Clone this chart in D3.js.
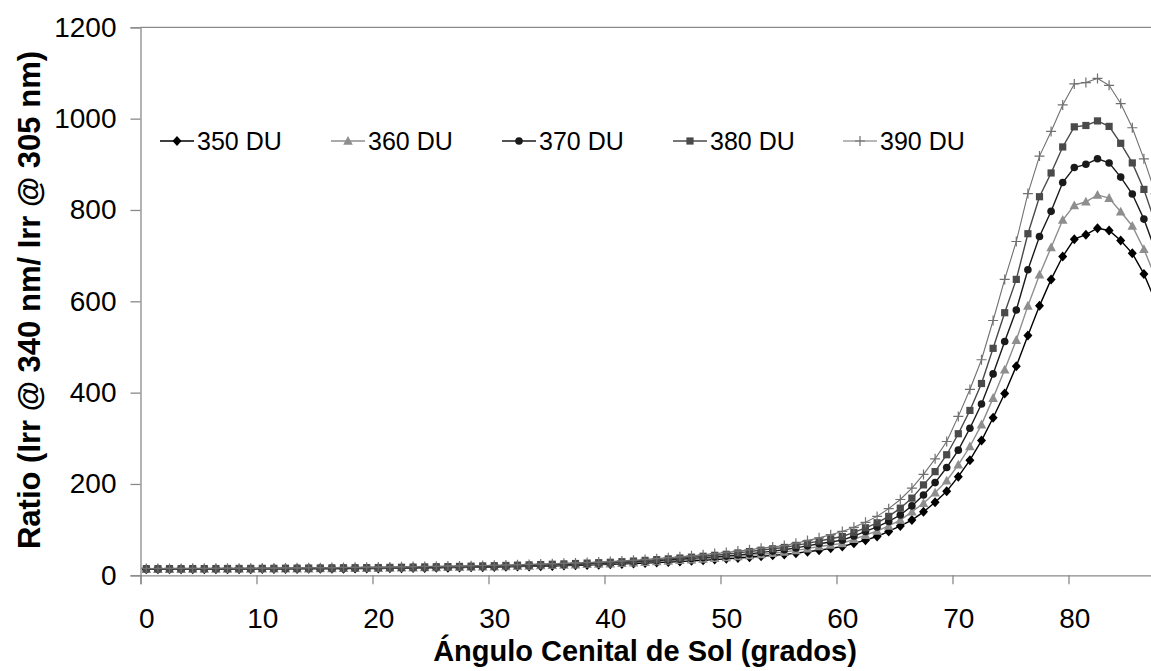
<!DOCTYPE html>
<html><head><meta charset="utf-8">
<script src="https://cdn.jsdelivr.net/npm/d3@7"></script>
<style>body{margin:0;background:#fff;}svg{display:block;font-family:"Liberation Sans",Arial,sans-serif;}</style>
</head><body>
<svg id="c" width="1151" height="671"></svg>
<script>
const angles = [0,1,2,3,4,5,6,7,8,9,10,11,12,13,14,15,16,17,18,19,20,21,22,23,24,25,26,27,28,29,30,31,32,33,34,35,36,37,38,39,40,41,42,43,44,45,46,47,48,49,50,51,52,53,54,55,56,57,58,59,60,61,62,63,64,65,66,67,68,69,70,71,72,73,74,75,76,77,78,79,80,81,82,83,84,85,86,87,88];
const du350 = [13.0,13.0,13.1,13.1,13.2,13.2,13.3,13.4,13.5,13.5,13.6,13.7,13.8,14.0,14.1,14.3,14.4,14.6,14.8,14.9,15.0,15.3,15.6,15.9,16.2,16.5,16.8,17.1,17.4,17.7,18.0,18.5,19.0,19.5,20.0,20.5,21.2,21.9,22.6,23.3,24.0,25.0,26.0,27.0,28.0,29.0,30.3,31.7,33.0,34.5,36.0,37.8,39.6,41.6,43.7,45.5,48.5,51.5,55,59,63,70,77,85,96,108,121,139,160,184,216,252,295,345,398,458,525,590,648,698,736,746,760,755,733,705,660,600,530];
const du360 = [13.5,13.5,13.6,13.6,13.7,13.7,13.8,13.9,14.0,14.1,14.2,14.3,14.4,14.6,14.7,14.9,15.1,15.3,15.5,15.6,15.8,16.1,16.4,16.7,17.0,17.3,17.6,18.0,18.3,18.6,19.0,19.5,20.1,20.7,21.3,22.0,22.7,23.4,24.1,24.8,25.5,26.6,27.7,28.9,30.1,31.4,32.8,34.3,35.8,37.4,39.0,41.2,43.5,45.9,48.4,51,54.5,58.5,63,66.5,70,79,88,97,108,121,139,158,181,207,242,282,330,388,450,515,590,658,718,778,810,818,833,826,796,765,714,652,580];
const du370 = [14.0,14.0,14.1,14.1,14.2,14.2,14.3,14.4,14.5,14.6,14.7,14.8,15.0,15.1,15.3,15.5,15.7,15.9,16.1,16.3,16.5,16.8,17.1,17.4,17.7,18.0,18.4,18.8,19.2,19.6,20.0,20.6,21.2,21.8,22.4,23.0,23.8,24.6,25.4,26.2,27.0,28.2,29.5,30.8,32.2,33.7,35.3,37.0,38.8,40.4,42.0,44.5,47,50,53,56,60,64.5,69,73,77,86,96,106,118,132,152,176,203,236,274,322,375,441,512,581,669,742,797,860,893,900,912,903,872,835,780,710,630];
const du380 = [14.5,14.5,14.6,14.6,14.7,14.7,14.8,14.9,15.0,15.1,15.2,15.3,15.5,15.6,15.8,16.0,16.2,16.4,16.6,16.8,17.0,17.3,17.6,17.9,18.3,18.7,19.1,19.5,20.0,20.5,21.0,21.6,22.2,22.8,23.5,24.2,25.0,25.8,26.7,27.6,28.5,29.8,31.2,32.7,34.3,36.0,37.8,39.7,41.7,43.8,46,49,52,55,58,61,65.5,70,75,80,85,94,104,115,129,147,169,198,227,264,310,361,420,497,575,648,748,829,881,938,982,985,995,983,946,903,845,770,690];
const du390 = [15.0,15.0,15.1,15.1,15.2,15.3,15.4,15.5,15.6,15.7,15.8,15.9,16.1,16.3,16.5,16.7,16.9,17.2,17.5,17.8,18.0,18.3,18.6,19.0,19.4,19.8,20.2,20.6,21.0,21.5,22.0,22.6,23.2,23.9,24.6,25.4,26.2,27.1,28.0,29.0,30.0,31.5,33.0,34.7,36.5,38.4,40.4,42.6,45.0,47.5,50,53,56,59.5,62,65,70,76,82,89,96,105,116,129,146,166,191,221,255,293,348,407,472,558,648,731,836,918,972,1030,1076,1079,1088,1073,1033,980,912,835,750];
const seriesNames = ["350 DU","360 DU","370 DU","380 DU","390 DU"];
const xTickLabels = [0,10,20,30,40,50,60,70,80];
const yTicks = [0,200,400,600,800,1000,1200];
const xTitle = "Ángulo Cenital de Sol (grados)";
const yTitle = "Ratio (Irr @ 340 nm/ Irr @ 305 nm)";

const seriesData = [du350, du360, du370, du380, du390];
const styles = [
  {stroke:"#000", fill:"#000", marker:"diamond", sw:1.4},
  {stroke:"#8e8e8e", fill:"#8e8e8e", marker:"triangle", sw:1.4},
  {stroke:"#1a1a1a", fill:"#1a1a1a", marker:"circle", sw:1.4},
  {stroke:"#4a4a4a", fill:"#4a4a4a", marker:"square", sw:1.4},
  {stroke:"#707070", fill:"none", marker:"plus", sw:1.1}
];

const svg = d3.select("#c");
const W = 1151;
const x0 = 140.5, step = 11.6;
const x = d3.scaleLinear().domain([-0.5, 89.5]).range([x0, x0 + 90*step]);
const y = d3.scaleLinear().domain([0, 1200]).range([575.3, 27.3]);
const axisColor = "#8a8a8a";
const FONT = "Liberation Sans, Arial, sans-serif";

// top gridline
svg.append("line").attr("x1", x0).attr("x2", W).attr("y1", y(1200)).attr("y2", y(1200))
  .attr("stroke", axisColor).attr("stroke-width", 1.3);

// y axis
const gy = svg.append("g").attr("transform", `translate(${x0},0)`)
  .call(d3.axisLeft(y).tickValues(yTicks).tickSize(10).tickPadding(14).tickFormat(d3.format("d")));
gy.select(".domain").attr("stroke", axisColor).attr("stroke-width", 1.3);
gy.selectAll(".tick line").attr("stroke", axisColor).attr("stroke-width", 1.3);
gy.selectAll("text").attr("font-size", 28).attr("fill", "#000").attr("font-family", FONT);

// x axis ticks at category boundaries
const tickPos = [-0.5,9.5,19.5,29.5,39.5,49.5,59.5,69.5,79.5,89.5];
const gx = svg.append("g").attr("transform", `translate(0,${y(0)})`)
  .call(d3.axisBottom(x).tickValues(tickPos).tickSize(9).tickFormat(""));
gx.select(".domain").attr("stroke", axisColor).attr("stroke-width", 1.3);
gx.selectAll(".tick line").attr("stroke", axisColor).attr("stroke-width", 1.3);
// x labels at category centers
const gxl = svg.append("g").attr("transform", `translate(0,${y(0)})`)
  .call(d3.axisBottom(x).tickValues(xTickLabels).tickSize(0).tickPadding(33).tickFormat(d3.format("d")));
gxl.select(".domain").remove();
gxl.selectAll("text").attr("font-size", 28).attr("fill", "#000").attr("font-family", FONT);

// titles
svg.append("text").attr("x", 645).attr("y", 661).attr("text-anchor", "middle")
  .attr("font-size", 29).attr("font-weight", "bold").attr("font-family", FONT).text(xTitle);
svg.append("text").attr("transform", "translate(40,300) rotate(-90)").attr("text-anchor", "middle")
  .attr("font-size", 31).attr("font-weight", "bold").attr("font-family", FONT).text(yTitle);

function drawMarker(g, type, cx, cy, st) {
  if (type === "diamond") {
    g.append("path").attr("d", `M${cx},${cy-5}L${cx+4.5},${cy}L${cx},${cy+5}L${cx-4.5},${cy}Z`).attr("fill", st.fill);
  } else if (type === "triangle") {
    g.append("path").attr("d", `M${cx},${cy-5}L${cx+4.8},${cy+3.8}L${cx-4.8},${cy+3.8}Z`).attr("fill", st.fill);
  } else if (type === "circle") {
    g.append("circle").attr("cx", cx).attr("cy", cy).attr("r", 3.8).attr("fill", st.fill);
  } else if (type === "square") {
    g.append("rect").attr("x", cx-3.6).attr("y", cy-3.6).attr("width", 7.2).attr("height", 7.2).attr("fill", st.fill);
  } else if (type === "plus") {
    g.append("path").attr("d", `M${cx-5},${cy}H${cx+5}M${cx},${cy-5}V${cy+5}`).attr("stroke", st.stroke).attr("stroke-width", 1.2).attr("fill", "none");
  }
}

const line = d3.line().x((d, i) => x(angles[i])).y(d => y(d));
seriesData.forEach((vals, si) => {
  const st = styles[si];
  const g = svg.append("g");
  g.append("path").datum(vals).attr("d", line).attr("fill", "none")
    .attr("stroke", st.stroke).attr("stroke-width", st.sw);
  vals.forEach((v, i) => drawMarker(g, st.marker, x(angles[i]), y(v), st));
});

// legend
const legText = [197, 368, 539, 710, 880];
const legY = 141;
seriesNames.forEach((name, si) => {
  const st = styles[si];
  const g = svg.append("g");
  const lx = legText[si] - 37;
  g.append("line").attr("x1", lx).attr("x2", lx + 34).attr("y1", legY).attr("y2", legY)
    .attr("stroke", st.stroke).attr("stroke-width", st.sw);
  drawMarker(g, st.marker, lx + 17, legY, st);
  g.append("text").attr("x", legText[si]).attr("y", legY + 9).attr("font-size", 25)
    .attr("font-family", FONT).attr("fill", "#000").text(name);
});
</script>
</body></html>
